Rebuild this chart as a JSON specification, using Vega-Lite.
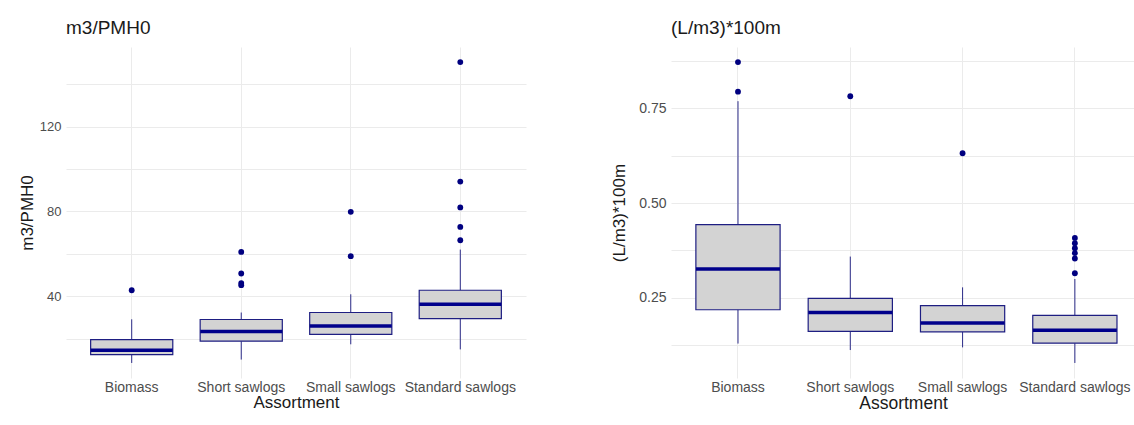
{
  "$schema": "https://vega.github.io/schema/vega-lite/v6.json",
  "background": "white",
  "padding": {"left": 18, "top": 19, "right": 0, "bottom": 0},
  "spacing": 84,
  "config": {
    "font": "Liberation Sans",
    "view": {"stroke": null},
    "axis": {"domain": false, "ticks": false, "tickSize": 0, "grid": true, "gridColor": "#ebebeb", "gridWidth": 1, "labelColor": "#4d4d4d", "titleColor": "#1a1a1a", "titleFontWeight": "normal", "titleFontSize": 17, "labelFontSize": 13},
    "title": {"fontSize": 19, "fontWeight": "normal", "anchor": "start", "frame": "group", "color": "#1a1a1a", "baseline": "alphabetic", "offset": 9}
  },
  "datasets": {
    "prod_box": [
      {"Assortment": "Biomass", "lower": 8.5, "q1": 12.4, "median": 14.5, "q3": 19.5, "upper": 29.1},
      {"Assortment": "Short sawlogs", "lower": 10.1, "q1": 18.8, "median": 23.3, "q3": 29.0, "upper": 32.3},
      {"Assortment": "Small sawlogs", "lower": 17.3, "q1": 22.0, "median": 25.9, "q3": 32.3, "upper": 40.9},
      {"Assortment": "Standard sawlogs", "lower": 14.9, "q1": 29.4, "median": 36.2, "q3": 42.8, "upper": 62.0}
    ],
    "prod_out": [
      {"Assortment": "Biomass", "value": 42.8},
      {"Assortment": "Short sawlogs", "value": 60.9},
      {"Assortment": "Short sawlogs", "value": 50.7},
      {"Assortment": "Short sawlogs", "value": 46.2},
      {"Assortment": "Short sawlogs", "value": 45.2},
      {"Assortment": "Small sawlogs", "value": 79.8},
      {"Assortment": "Small sawlogs", "value": 58.9},
      {"Assortment": "Standard sawlogs", "value": 150.5},
      {"Assortment": "Standard sawlogs", "value": 94.1},
      {"Assortment": "Standard sawlogs", "value": 81.9},
      {"Assortment": "Standard sawlogs", "value": 72.7},
      {"Assortment": "Standard sawlogs", "value": 66.4}
    ],
    "fuel_box": [
      {"Assortment": "Biomass", "lower": 0.130, "q1": 0.219, "median": 0.326, "q3": 0.443, "upper": 0.768},
      {"Assortment": "Short sawlogs", "lower": 0.113, "q1": 0.162, "median": 0.212, "q3": 0.249, "upper": 0.359},
      {"Assortment": "Small sawlogs", "lower": 0.120, "q1": 0.161, "median": 0.184, "q3": 0.230, "upper": 0.278},
      {"Assortment": "Standard sawlogs", "lower": 0.079, "q1": 0.131, "median": 0.165, "q3": 0.204, "upper": 0.300}
    ],
    "fuel_out": [
      {"Assortment": "Biomass", "value": 0.871},
      {"Assortment": "Biomass", "value": 0.793},
      {"Assortment": "Short sawlogs", "value": 0.781},
      {"Assortment": "Small sawlogs", "value": 0.631},
      {"Assortment": "Standard sawlogs", "value": 0.408},
      {"Assortment": "Standard sawlogs", "value": 0.394},
      {"Assortment": "Standard sawlogs", "value": 0.381},
      {"Assortment": "Standard sawlogs", "value": 0.368},
      {"Assortment": "Standard sawlogs", "value": 0.354},
      {"Assortment": "Standard sawlogs", "value": 0.315}
    ]
  },
  "hconcat": [
    {
      "title": "m3/PMH0",
      "width": 460,
      "height": 331,
      "layer": [
        {
          "data": {"name": "prod_box"},
          "mark": {"type": "rule", "color": "#2b2b88", "strokeWidth": 1},
          "encoding": {
            "x": {"field": "Assortment", "type": "nominal", "sort": ["Biomass", "Short sawlogs", "Small sawlogs", "Standard sawlogs"], "scale": {"paddingInner": 0.25, "paddingOuter": 0.225}, "axis": {"title": "Assortment", "labelAngle": 0, "bandPosition": 0.5, "labelFontSize": 14, "labelPadding": 2, "titlePadding": 0}},
            "y": {"field": "lower", "type": "quantitative", "title": "m3/PMH0", "scale": {"domain": [1.4, 157.6], "nice": false, "zero": false}, "axis": {"values": [20, 40, 60, 80, 100, 120, 140], "labelExpr": "datum.value % 40 == 0 ? datum.label : ''", "labelPadding": 5, "titlePadding": 3}},
            "y2": {"field": "q1"}
          }
        },
        {
          "data": {"name": "prod_box"},
          "mark": {"type": "rule", "color": "#2b2b88", "strokeWidth": 1},
          "encoding": {
            "x": {"field": "Assortment", "type": "nominal", "sort": ["Biomass", "Short sawlogs", "Small sawlogs", "Standard sawlogs"]},
            "y": {"field": "q3", "type": "quantitative", "title": "m3/PMH0", "scale": {"domain": [1.4, 157.6], "nice": false, "zero": false}},
            "y2": {"field": "upper"}
          }
        },
        {
          "data": {"name": "prod_box"},
          "mark": {"type": "bar", "fill": "#d3d3d3", "stroke": "#1e1e82", "strokeWidth": 1.2},
          "encoding": {
            "x": {"field": "Assortment", "type": "nominal", "sort": ["Biomass", "Short sawlogs", "Small sawlogs", "Standard sawlogs"]},
            "y": {"field": "q1", "type": "quantitative", "title": "m3/PMH0", "scale": {"domain": [1.4, 157.6], "nice": false, "zero": false}},
            "y2": {"field": "q3"}
          }
        },
        {
          "data": {"name": "prod_box"},
          "mark": {"type": "tick", "color": "#00008b", "thickness": 3.5, "size": 82, "opacity": 1},
          "encoding": {
            "x": {"field": "Assortment", "type": "nominal", "sort": ["Biomass", "Short sawlogs", "Small sawlogs", "Standard sawlogs"]},
            "y": {"field": "median", "type": "quantitative", "title": "m3/PMH0", "scale": {"domain": [1.4, 157.6], "nice": false, "zero": false}}
          }
        },
        {
          "data": {"name": "prod_out"},
          "mark": {"type": "point", "filled": true, "color": "#000080", "size": 34, "opacity": 1},
          "encoding": {
            "x": {"field": "Assortment", "type": "nominal", "sort": ["Biomass", "Short sawlogs", "Small sawlogs", "Standard sawlogs"]},
            "y": {"field": "value", "type": "quantitative", "title": "m3/PMH0", "scale": {"domain": [1.4, 157.6], "nice": false, "zero": false}}
          }
        }
      ]
    },
    {
      "title": "(L/m3)*100m",
      "width": 464,
      "height": 331,
      "layer": [
        {
          "data": {"name": "fuel_box"},
          "mark": {"type": "rule", "color": "#2b2b88", "strokeWidth": 1},
          "encoding": {
            "x": {"field": "Assortment", "type": "nominal", "sort": ["Biomass", "Short sawlogs", "Small sawlogs", "Standard sawlogs"], "scale": {"paddingInner": 0.25, "paddingOuter": 0.191, "align": 0.58}, "axis": {"title": "Assortment", "labelAngle": 0, "bandPosition": 0.5, "labelFontSize": 14, "labelPadding": 2, "titlePadding": 0, "titleFontSize": 17.5}},
            "y": {"field": "lower", "type": "quantitative", "title": "(L/m3)*100m", "scale": {"domain": [0.0394, 0.9106], "nice": false, "zero": false}, "axis": {"values": [0.125, 0.25, 0.375, 0.5, 0.625, 0.75, 0.875], "format": ".2f", "labelExpr": "(datum.value * 4) % 1 == 0 ? datum.label : ''", "labelPadding": 5, "titlePadding": 10, "labelFontSize": 14}},
            "y2": {"field": "q1"}
          }
        },
        {
          "data": {"name": "fuel_box"},
          "mark": {"type": "rule", "color": "#2b2b88", "strokeWidth": 1},
          "encoding": {
            "x": {"field": "Assortment", "type": "nominal", "sort": ["Biomass", "Short sawlogs", "Small sawlogs", "Standard sawlogs"]},
            "y": {"field": "q3", "type": "quantitative", "title": "(L/m3)*100m", "scale": {"domain": [0.0394, 0.9106], "nice": false, "zero": false}},
            "y2": {"field": "upper"}
          }
        },
        {
          "data": {"name": "fuel_box"},
          "mark": {"type": "bar", "fill": "#d3d3d3", "stroke": "#1e1e82", "strokeWidth": 1.2},
          "encoding": {
            "x": {"field": "Assortment", "type": "nominal", "sort": ["Biomass", "Short sawlogs", "Small sawlogs", "Standard sawlogs"]},
            "y": {"field": "q1", "type": "quantitative", "title": "(L/m3)*100m", "scale": {"domain": [0.0394, 0.9106], "nice": false, "zero": false}},
            "y2": {"field": "q3"}
          }
        },
        {
          "data": {"name": "fuel_box"},
          "mark": {"type": "tick", "color": "#00008b", "thickness": 3.5, "size": 84, "opacity": 1},
          "encoding": {
            "x": {"field": "Assortment", "type": "nominal", "sort": ["Biomass", "Short sawlogs", "Small sawlogs", "Standard sawlogs"]},
            "y": {"field": "median", "type": "quantitative", "title": "(L/m3)*100m", "scale": {"domain": [0.0394, 0.9106], "nice": false, "zero": false}}
          }
        },
        {
          "data": {"name": "fuel_out"},
          "mark": {"type": "point", "filled": true, "color": "#000080", "size": 34, "opacity": 1},
          "encoding": {
            "x": {"field": "Assortment", "type": "nominal", "sort": ["Biomass", "Short sawlogs", "Small sawlogs", "Standard sawlogs"]},
            "y": {"field": "value", "type": "quantitative", "title": "(L/m3)*100m", "scale": {"domain": [0.0394, 0.9106], "nice": false, "zero": false}}
          }
        }
      ]
    }
  ]
}
